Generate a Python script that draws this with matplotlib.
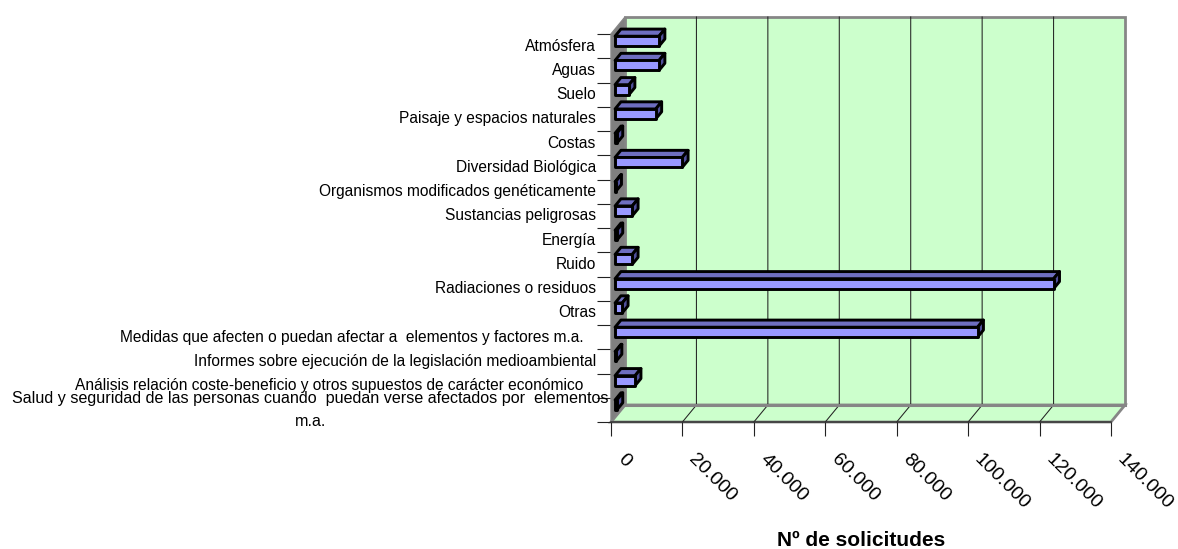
import matplotlib
matplotlib.use("Agg")
import matplotlib.pyplot as plt
from matplotlib.patches import Polygon
from matplotlib.transforms import ScaledTranslation

plt.rcParams['font.family'] = ['Liberation Sans', 'DejaVu Sans']

categories = [
    "Atmósfera", "Aguas", "Suelo", "Paisaje y espacios naturales", "Costas",
    "Diversidad Biológica", "Organismos modificados genéticamente",
    "Sustancias peligrosas", "Energía", "Ruido", "Radiaciones o residuos", "Otras",
    "Medidas que afecten o puedan afectar a  elementos y factores m.a.   ",
    "Informes sobre ejecución de la legislación medioambiental",
    "Análisis relación coste-beneficio y otros supuestos de carácter económico   ",
    "Salud y seguridad de las personas cuando  puedan verse afectados por  elementos\nm.a.",
]
values = [12300, 12300, 3900, 11400, 500, 18800, 150, 4800, 500, 4800,
          122800, 2000, 101500, 250, 5600, 500]
x_ticks = [0, 20000, 40000, 60000, 80000, 100000, 120000, 140000]
x_tick_labels = ["0", "20.000", "40.000", "60.000", "80.000", "100.000", "120.000", "140.000"]
x_title = "Nº de solicitudes"

W, H = 1178, 549
fig = plt.figure(figsize=(W / 100, H / 100), dpi=100, facecolor="white")
ax = fig.add_axes([611 / W, (H - 422) / H, 500 / W, 388 / H])
xmax = x_ticks[-1]
n = len(categories)
ax.set_xlim(0, xmax)
ax.set_ylim(n, 0)
ax.patch.set_visible(False)
for s in ax.spines.values():
    s.set_visible(False)

DX = xmax * 14 / 500
DY = n * 17 / 388


def P(v, y, d):
    return (v + d * DX, y - d * DY)


GRAY = "#868686"
GREEN = "#CCFFCC"
# walls and floor
ax.add_patch(Polygon([P(0, 0, 1), P(xmax, 0, 1), P(xmax, n, 1), P(0, n, 1)], closed=True,
                     fc=GREEN, ec=GRAY, lw=2, clip_on=False, zorder=1))
ax.add_patch(Polygon([P(0, n, 0), P(xmax, n, 0), P(xmax, n, 1), P(0, n, 1)], closed=True,
                     fc=GREEN, ec=GRAY, lw=2, clip_on=False, zorder=1))
ax.add_patch(Polygon([P(0, 0, 0), P(0, 0, 1), P(0, n, 1), P(0, n, 0)], closed=True,
                     fc="#808080", ec=GRAY, lw=1, clip_on=False, zorder=2))
# gridlines on wall and floor
for t in x_ticks[1:-1]:
    a, b, c = P(t, 0, 1), P(t, n, 1), P(t, n, 0)
    ax.plot([a[0], b[0], c[0]], [a[1], b[1], c[1]], color="#222222", lw=0.75,
            clip_on=False, zorder=1.5, solid_joinstyle="miter")
# re-stroke the floor's back edge above the gridlines
a, b = P(0, n, 1), P(xmax, n, 1)
ax.plot([a[0], b[0]], [a[1], b[1]], color=GRAY, lw=2.2, clip_on=False, zorder=1.6)
# front floor edge
ax.plot([0, xmax], [n, n], color="#333333", lw=1.1, clip_on=False, zorder=3)

# 3D bars
d0, d1 = 0.29, 0.71
bh = 0.41
for i, v in enumerate(values):
    top, bot = i + 0.5 - bh / 2, i + 0.5 + bh / 2
    kw = dict(closed=True, ec="black", lw=2.1, clip_on=False, zorder=5, joinstyle="round")
    ax.add_patch(Polygon([P(0, top, d0), P(v, top, d0), P(v, top, d1), P(0, top, d1)], fc="#6E6EC0", **kw))
    ax.add_patch(Polygon([P(v, top, d0), P(v, bot, d0), P(v, bot, d1), P(v, top, d1)], fc="#50509A", **kw))
    ax.add_patch(Polygon([P(0, top, d0), P(v, top, d0), P(v, bot, d0), P(0, bot, d0)], fc="#9999FF", **kw))

# axes ticks
ax.set_xticks(x_ticks)
ax.set_xticklabels(x_tick_labels, rotation=-45, ha="left", va="center",
                   rotation_mode="anchor", fontsize=14)
ax.tick_params(axis="x", length=10, width=0.8, pad=15, color="#222222")
ax.set_yticks(range(n + 1))
ax.set_yticklabels([])
ax.set_yticks([i + 0.5 for i in range(n)], minor=True)
ax.set_yticklabels(categories, minor=True, fontsize=11.2, ha="right", va="center",
                   linespacing=1.65, multialignment="center")
ax.tick_params(axis="y", which="major", length=10, width=0.8, color="#222222")
ax.tick_params(axis="y", which="minor", length=0, pad=10.8)
for lab in ax.get_xticklabels():
    lab.set_transform(lab.get_transform() + ScaledTranslation(9 / 100, 0, fig.dpi_scale_trans))
last = ax.get_yticklabels(minor=True)[-1]
last.set_fontsize(11.6)
last.set_transform(last.get_transform() + ScaledTranslation(13 / 100, 0, fig.dpi_scale_trans))

ax.set_xlabel(x_title, fontsize=15, fontweight="bold", va="center")
ax.xaxis.set_label_coords((861 - 611) / 500, (422 - 541) / 388)

fig.savefig("out.png", dpi=100)
